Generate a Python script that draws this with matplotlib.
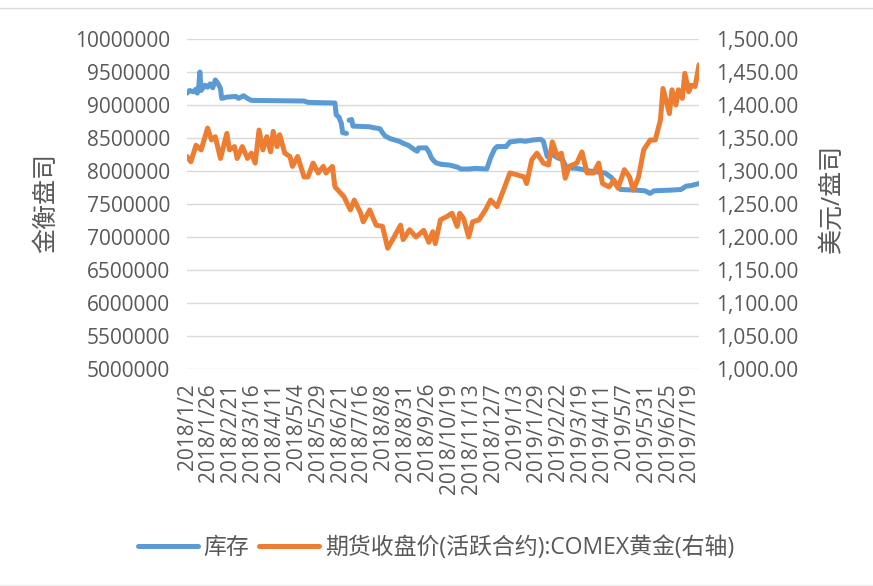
import numpy as np
import matplotlib
matplotlib.use("Agg")
import matplotlib.pyplot as plt
from matplotlib.lines import Line2D

plt.rcParams['font.family'] = ['Open Sans', 'Noto Sans CJK SC', 'DejaVu Sans']

# ---- data ----
tick_labels = ["2018/1/2", "2018/1/26", "2018/2/21", "2018/3/16", "2018/4/11", "2018/5/4",
               "2018/5/29", "2018/6/21", "2018/7/16", "2018/8/8", "2018/8/31", "2018/9/26",
               "2018/10/19", "2018/11/13", "2018/12/7", "2019/1/3", "2019/1/29", "2019/2/22",
               "2019/3/19", "2019/4/11", "2019/5/7", "2019/5/31", "2019/6/25", "2019/7/19"]
tick_step = 17          # trading days between category labels
n_days = 399            # number of trading days

# inventory (left axis): trading-day index, value
inv_day = [0, 2, 5, 7, 8, 9, 10, 11, 14, 16, 18, 20, 22, 24, 26, 27, 31, 38, 40, 44, 47, 50,
           91, 94, 115, 116, 118, 120, 121, 124, 125, 126, 128, 129, 142, 144, 150, 152, 154,
           158, 165, 168, 172, 177, 179, 180, 186, 188, 190, 192, 194, 198, 204, 210, 213, 219,
           224, 233, 236, 239, 241, 248, 251, 259, 263, 269, 275, 277, 280, 284, 288, 292, 295,
           303, 313, 321, 325, 330, 334, 337, 349, 356, 360, 363, 376, 384, 388, 392, 398]
inv_val = [9180000, 9220000, 9200000, 9240000, 9180000, 9250000, 9500000, 9220000, 9300000,
           9270000, 9320000, 9260000, 9380000, 9330000, 9250000, 9100000, 9120000, 9130000,
           9100000, 9140000, 9100000, 9070000, 9060000, 9040000, 9030000, 8850000, 8820000,
           8720000, 8580000, 8570000, np.nan, 8770000, 8780000, 8680000, 8670000, 8660000,
           8640000, 8580000, 8530000, 8490000, 8450000, 8420000, 8390000, 8320000, 8300000,
           8350000, 8350000, 8290000, 8200000, 8150000, 8120000, 8100000, 8090000, 8060000,
           8030000, 8030000, 8040000, 8030000, 8200000, 8330000, 8370000, 8370000, 8440000,
           8460000, 8450000, 8470000, 8480000, 8450000, 8220000, 8250000, 8200000, 8170000,
           8050000, 8040000, 8000000, 7980000, 7970000, 7900000, 7780000, 7720000, 7710000,
           7700000, 7660000, 7700000, 7710000, 7720000, 7770000, 7780000, 7810000]

# COMEX gold futures close (right axis): trading-day index, value
gold_day = [0, 3, 7, 11, 16, 19, 22, 26, 31, 33, 37, 39, 43, 47, 50, 53, 56, 59, 62, 65, 67,
            70, 72, 76, 80, 82, 86, 91, 94, 98, 102, 106, 108, 113, 115, 122, 127, 130, 135,
            137, 142, 147, 152, 156, 161, 166, 168, 173, 178, 184, 188, 191, 193, 197, 202,
            206, 210, 212, 215, 219, 222, 227, 232, 236, 241, 246, 251, 257, 262, 264, 268,
            272, 277, 281, 284, 288, 291, 294, 297, 303, 307, 311, 316, 320, 323, 328, 332,
            335, 340, 344, 347, 351, 355, 360, 364, 368, 370, 375, 377, 380, 382, 385, 387,
            390, 392, 395, 398]
gold_val = [1322, 1314, 1339, 1332, 1365, 1347, 1352, 1319, 1357, 1332, 1337, 1319, 1337,
            1319, 1327, 1312, 1362, 1332, 1352, 1329, 1360, 1337, 1355, 1327, 1322, 1307,
            1322, 1291, 1291, 1312, 1297, 1307, 1297, 1307, 1276, 1261, 1241, 1256, 1236,
            1223, 1241, 1218, 1216, 1183, 1200, 1218, 1196, 1211, 1200, 1210, 1192, 1208,
            1190, 1226, 1231, 1236, 1216, 1236, 1228, 1200, 1223, 1226, 1241, 1256, 1246,
            1271, 1297, 1294, 1291, 1281, 1317, 1327, 1312, 1309, 1344, 1322, 1327, 1289,
            1307, 1312, 1329, 1297, 1297, 1312, 1281, 1276, 1286, 1274, 1302, 1291, 1271,
            1291, 1332, 1347, 1347, 1377, 1425, 1387, 1423, 1400, 1423, 1410, 1448, 1420,
            1430, 1428, 1461]

inv_label = "库存"
gold_label = "期货收盘价(活跃合约):COMEX黄金(右轴)"
left_title = "金衡盘司"
right_title = "美元/盘司"

# ---- styling ----
W, H = 873, 586
txt = "#595959"
grid = "#D9D9D9"
blue = "#5B9BD5"
orange = "#ED7D31"
fs = 15

fig = plt.figure(figsize=(W / 100, H / 100), dpi=100)
ax = fig.add_axes([187 / W, 1 - 369 / H, (699 - 187) / W, (369 - 39) / H])
ax2 = ax.twinx()

l1, = ax.plot(inv_day, inv_val, color=blue, lw=3.6, solid_joinstyle='round',
              solid_capstyle='round', label=inv_label)
l2, = ax2.plot(gold_day, gold_val, color=orange, lw=3.6, solid_joinstyle='round',
               solid_capstyle='round', label=gold_label)
ax.set_zorder(ax2.get_zorder() - 1)
ax2.patch.set_visible(False)

ax.set_xlim(0, n_days - 1)
ax.set_ylim(5000000, 10000000)
ax2.set_ylim(1000, 1500)
ax.set_yticks(np.arange(5000000, 10000001, 500000))
ax2.set_yticks(np.arange(1000, 1501, 50))
ax.yaxis.set_major_formatter(matplotlib.ticker.FuncFormatter(lambda v, p: f"{int(v)}"))
ax2.yaxis.set_major_formatter(matplotlib.ticker.FuncFormatter(lambda v, p: f"{v:,.2f}"))

ax.set_xticks(np.arange(len(tick_labels)) * tick_step)
ax.set_xticklabels(tick_labels, rotation=90)

for a in (ax, ax2):
    for s in a.spines.values():
        s.set_visible(False)
    a.tick_params(length=0, labelsize=fs, labelcolor=txt)
ax.tick_params(axis='y', pad=12)
ax2.tick_params(axis='y', pad=12)
ax.tick_params(axis='x', pad=10)

ax.grid(axis='y', color=grid, lw=1.0)
ax.set_axisbelow(True)

fig.text(47 / W, 1 - 203 / H, left_title, rotation=90, ha='center', va='center',
         fontsize=18, color=txt)
fig.text(832 / W, 1 - 198 / H, right_title, rotation=90, ha='center', va='center',
         fontsize=18, color=txt)

fig.legend(handles=[l1, l2], labels=[inv_label, gold_label], loc='center',
           bbox_to_anchor=(436 / W, 1 - 548 / H), ncol=2, frameon=False, fontsize=16.5,
           labelcolor=txt, handlelength=2.6, handletextpad=0.25, columnspacing=0.45)

# chart frame lines
fig.add_artist(Line2D([0, 1], [1 - 8 / H, 1 - 8 / H], color=grid, lw=1.0,
                      transform=fig.transFigure))
fig.add_artist(Line2D([0, 1], [1 - 585 / H, 1 - 585 / H], color="#EEEEEE", lw=1.0,
                      transform=fig.transFigure))

fig.savefig("out.png", dpi=100, facecolor="white")
